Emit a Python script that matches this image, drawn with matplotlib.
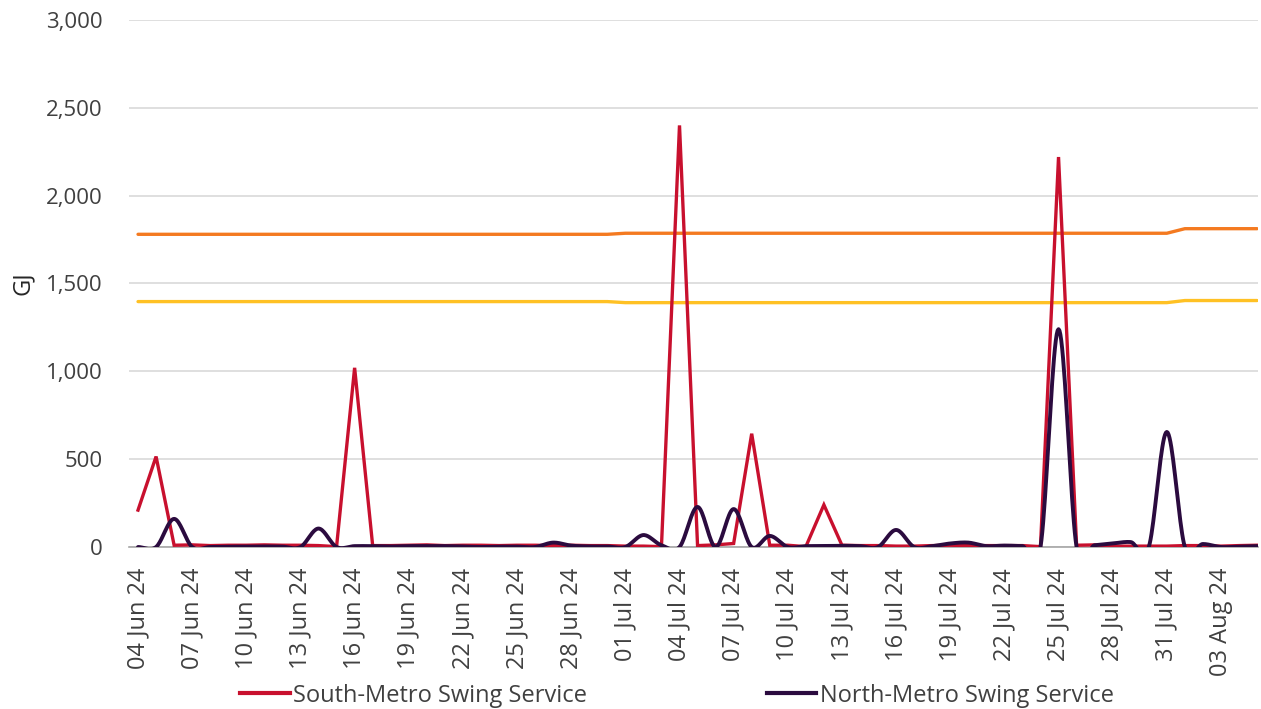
import numpy as np
import pandas as pd
import matplotlib
matplotlib.use("Agg")
import matplotlib.pyplot as plt
from matplotlib.lines import Line2D

plt.rcParams['font.family'] = ['Open Sans', 'DejaVu Sans']

dates = pd.date_range('2024-06-04', '2024-08-05', freq='D')

south = [210, 515, 10, 12, 8, 10, 10, 12, 10, 10, 8, 2, 1020, 8, 8, 10, 12, 8, 10, 10,
         8, 10, 10, 8, 10, 8, 8, 5, 5, 2, 2400, 8, 12, 20, 645, 10, 10, 2, 240, 10,
         8, 8, 5, 5, 8, 10, 8, 8, 8, 8, 2, 2220, 10, 12, 5, 5, 5, 5, 8, 8,
         5, 8, 10]

north = [0, 0, 160, 0, 0, 2, 2, 3, 2, 0, 105, 0, 5, 5, 3, 5, 5, 5, 3, 0,
         2, 2, 0, 25, 8, 3, 3, 0, 68, 10, 0, 228, 0, 216, 0, 63, 0, 5, 5, 7,
         5, 0, 97, 0, 5, 20, 25, 5, 8, 5, 0, 1240, 0, 10, 20, 28, 0, 655, 0, 17,
         0, 2, 5]

upper = [1780] * 27 + [1786] * 31 + [1812] * 5
lower = [1397] * 27 + [1391] * 31 + [1403] * 5

tick_dates = pd.date_range('2024-06-04', '2024-08-03', freq='3D')


def smooth(y, n=20):
    # Catmull-Rom style smoothing, like spreadsheet "smoothed line"
    y = np.asarray(y, dtype=float)
    x = np.arange(len(y), dtype=float)
    xs, ys = [], []
    for i in range(len(y) - 1):
        p0 = y[i - 1] if i > 0 else y[i]
        p3 = y[i + 2] if i + 2 < len(y) else y[i + 1]
        p1, p2 = y[i], y[i + 1]
        c1 = p1 + (p2 - p0) / 6
        c2 = p2 - (p3 - p1) / 6
        t = np.linspace(0, 1, n, endpoint=False)
        b = (1 - t) ** 3 * p1 + 3 * (1 - t) ** 2 * t * c1 + 3 * (1 - t) * t ** 2 * c2 + t ** 3 * p2
        xs.append(x[i] + t)
        ys.append(b)
    xs.append([x[-1]])
    ys.append([y[-1]])
    return np.concatenate(xs), np.concatenate(ys)


fig = plt.figure(figsize=(12.61, 7.09), dpi=100)
ax = fig.add_axes([0.1023, 0.2285, 0.8953, 0.7433])

idx = np.arange(len(dates))
red = '#C8102E'
dark = '#2B0B3F'
ax.plot(idx, upper, color='#F47A20', lw=2.4, solid_capstyle='round', zorder=3)
ax.plot(idx, lower, color='#FFC124', lw=2.4, solid_capstyle='round', zorder=3)
ax.plot(idx, south, color=red, lw=2.4, solid_joinstyle='miter', zorder=4)
sx, sy = smooth(north)
ax.plot(sx, sy, color=dark, lw=2.8, solid_capstyle='round', zorder=5)

ax.set_ylim(0, 3000)
ax.set_xlim(-0.5, 62.05)
ax.set_yticks(range(0, 3001, 500))
ax.set_yticklabels([f'{v:,}' for v in range(0, 3001, 500)])
tick_pos = [(d - dates[0]).days for d in tick_dates]
ax.set_xticks(tick_pos)
ax.set_xticklabels([d.strftime('%d %b %y') for d in tick_dates], rotation=90)

ax.grid(axis='y', color='#D9D9D9', lw=1.2)
ax.set_axisbelow(True)
for s in ['top', 'right', 'left']:
    ax.spines[s].set_visible(False)
ax.spines['bottom'].set_color('#A6A6A6')
ax.spines['bottom'].set_linewidth(1.2)
ax.tick_params(axis='both', length=0, colors='#404040')
ax.tick_params(axis='y', pad=19, labelsize=16)
ax.tick_params(axis='x', pad=15, labelsize=17)
ax.set_ylabel('GJ', fontsize=17, color='#262626')
ax.yaxis.set_label_coords(-0.083, 0.5)

handles = [Line2D([], [], color=red, lw=3), Line2D([], [], color=dark, lw=3)]
fig.legend(handles, ['South-Metro Swing Service', 'North-Metro Swing Service'],
           loc='center', bbox_to_anchor=(0.537, 0.019), ncol=2, frameon=False,
           fontsize=17, handlelength=2.1, handletextpad=0.15, columnspacing=7.6,
           labelcolor='#404040')

fig.savefig('out.png', dpi=100)
